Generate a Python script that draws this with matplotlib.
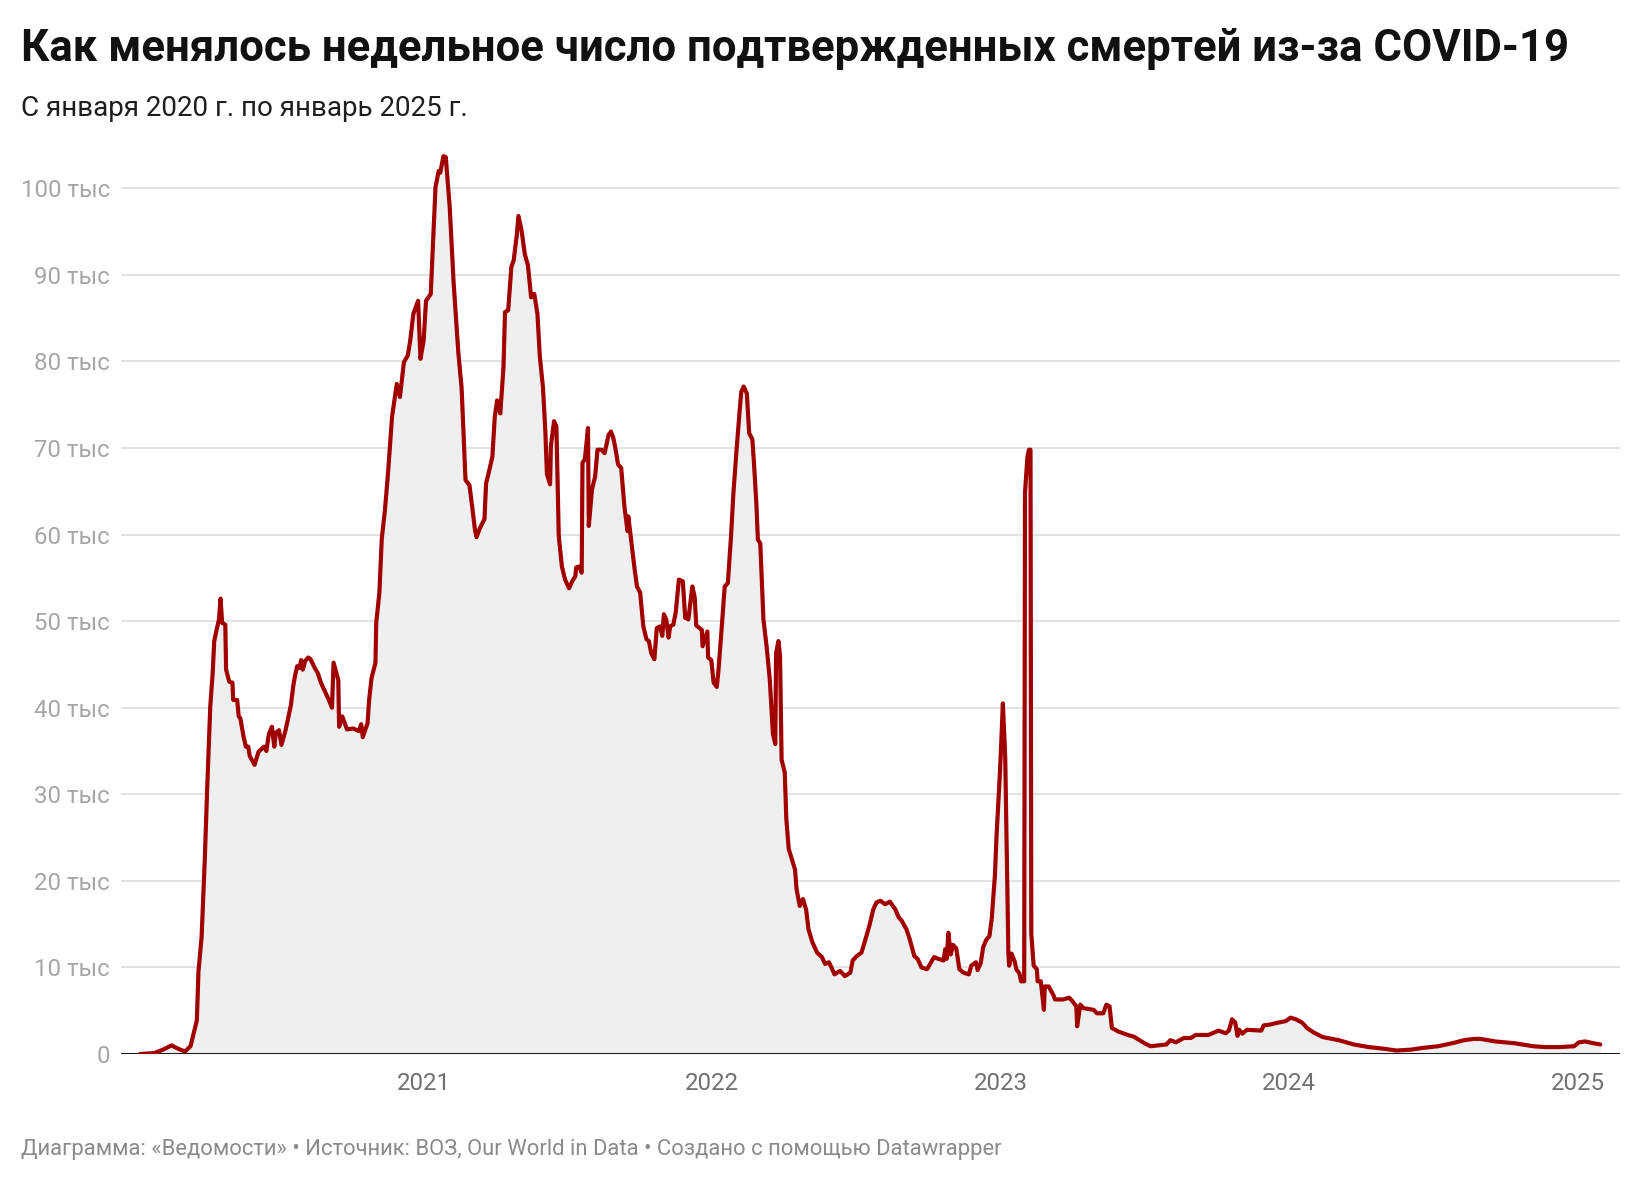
import matplotlib
matplotlib.use("Agg")
import matplotlib.pyplot as plt
import pandas as pd

plt.rcParams['font.family'] = ['Roboto', 'DejaVu Sans']

# weekly confirmed COVID-19 deaths, thousands
deaths_2020 = [
    ("2020-01-08", 0.0), ("2020-01-26", 0.1), ("2020-02-06", 0.5), ("2020-02-17", 1.0),
    ("2020-02-21", 0.8), ("2020-02-28", 0.5), ("2020-03-05", 0.3), ("2020-03-12", 0.9),
    ("2020-03-17", 2.8), ("2020-03-20", 3.9), ("2020-03-22", 9.5), ("2020-03-26", 13.5),
    ("2020-03-30", 22.4), ("2020-04-02", 30.5), ("2020-04-06", 40.2), ("2020-04-09", 44.0),
    ("2020-04-11", 47.7), ("2020-04-14", 49.0), ("2020-04-17", 50.2), ("2020-04-19", 52.6),
    ("2020-04-21", 49.8), ("2020-04-25", 49.6), ("2020-04-26", 44.4), ("2020-04-30", 43.0),
    ("2020-05-04", 42.9), ("2020-05-05", 40.9), ("2020-05-10", 40.9), ("2020-05-12", 39.0),
    ("2020-05-14", 38.8), ("2020-05-18", 36.7), ("2020-05-21", 35.5), ("2020-05-24", 35.5),
    ("2020-05-26", 34.4), ("2020-06-01", 33.4), ("2020-06-03", 34.0), ("2020-06-06", 34.9),
    ("2020-06-13", 35.5), ("2020-06-16", 35.0), ("2020-06-19", 36.9), ("2020-06-23", 37.8),
    ("2020-06-26", 35.5), ("2020-06-28", 37.1), ("2020-07-02", 37.4), ("2020-07-05", 35.7),
    ("2020-07-10", 37.3), ("2020-07-13", 38.6), ("2020-07-17", 40.3), ("2020-07-20", 42.5),
    ("2020-07-22", 43.6), ("2020-07-25", 44.8), ("2020-07-28", 44.6), ("2020-07-30", 45.5),
    ("2020-08-01", 44.4), ("2020-08-04", 45.4), ("2020-08-08", 45.8), ("2020-08-11", 45.6),
    ("2020-08-15", 44.8), ("2020-08-20", 44.0), ("2020-08-24", 42.9), ("2020-08-28", 42.1),
    ("2020-09-03", 40.9), ("2020-09-07", 40.0), ("2020-09-09", 45.2), ("2020-09-12", 44.2),
    ("2020-09-15", 43.2), ("2020-09-16", 37.8), ("2020-09-20", 39.0), ("2020-09-26", 37.5),
    ("2020-10-04", 37.6), ("2020-10-11", 37.3), ("2020-10-14", 38.1), ("2020-10-16", 36.6),
    ("2020-10-22", 38.2), ("2020-10-24", 40.9), ("2020-10-27", 43.4), ("2020-11-01", 45.2),
    ("2020-11-02", 49.8), ("2020-11-06", 53.3), ("2020-11-09", 59.5), ("2020-11-13", 62.8),
    ("2020-11-17", 67.2), ("2020-11-22", 73.6), ("2020-11-28", 77.4), ("2020-12-02", 75.9),
    ("2020-12-07", 79.9), ("2020-12-12", 80.7), ("2020-12-15", 82.4), ("2020-12-19", 85.5),
    ("2020-12-25", 87.0), ("2020-12-28", 80.3),
]

deaths_2021 = [
    ("2021-01-01", 82.4), ("2021-01-04", 87.0), ("2021-01-10", 87.8), ("2021-01-16", 100.1),
    ("2021-01-20", 102.0), ("2021-01-22", 101.8), ("2021-01-26", 103.7), ("2021-01-29", 103.6),
    ("2021-02-03", 97.8), ("2021-02-08", 89.0), ("2021-02-14", 80.9), ("2021-02-18", 77.0),
    ("2021-02-23", 66.3), ("2021-02-28", 65.7), ("2021-03-04", 62.8), ("2021-03-07", 60.5),
    ("2021-03-09", 59.7), ("2021-03-13", 60.7), ("2021-03-19", 61.8), ("2021-03-21", 65.9),
    ("2021-03-25", 67.4), ("2021-03-29", 69.0), ("2021-04-01", 73.6), ("2021-04-04", 75.5),
    ("2021-04-08", 74.0), ("2021-04-12", 79.3), ("2021-04-14", 85.7), ("2021-04-18", 85.9),
    ("2021-04-22", 90.9), ("2021-04-25", 91.7), ("2021-04-29", 94.7), ("2021-05-01", 96.8),
    ("2021-05-05", 95.1), ("2021-05-09", 92.4), ("2021-05-13", 91.1), ("2021-05-17", 87.4),
    ("2021-05-21", 87.8), ("2021-05-25", 85.5), ("2021-05-28", 80.6), ("2021-06-01", 77.0),
    ("2021-06-04", 72.0), ("2021-06-06", 67.0), ("2021-06-10", 65.8), ("2021-06-11", 70.2),
    ("2021-06-15", 73.1), ("2021-06-18", 72.5), ("2021-06-21", 59.8), ("2021-06-25", 56.3),
    ("2021-06-29", 54.8), ("2021-07-04", 53.8), ("2021-07-08", 54.6), ("2021-07-12", 55.2),
    ("2021-07-13", 56.2), ("2021-07-17", 56.3), ("2021-07-20", 55.6), ("2021-07-21", 68.3),
    ("2021-07-24", 68.7), ("2021-07-28", 72.3), ("2021-07-29", 61.0), ("2021-08-02", 65.2),
    ("2021-08-06", 66.7), ("2021-08-09", 69.8), ("2021-08-14", 69.8), ("2021-08-18", 69.4),
    ("2021-08-23", 71.5), ("2021-08-26", 71.9), ("2021-08-29", 71.2), ("2021-09-01", 69.8),
    ("2021-09-04", 68.1), ("2021-09-08", 67.7), ("2021-09-12", 63.3), ("2021-09-16", 60.4),
    ("2021-09-17", 62.1), ("2021-09-21", 59.0), ("2021-09-25", 56.0), ("2021-09-28", 54.0),
    ("2021-10-02", 53.3), ("2021-10-06", 49.4), ("2021-10-10", 47.9), ("2021-10-13", 47.7),
    ("2021-10-16", 46.3), ("2021-10-20", 45.6), ("2021-10-23", 49.2), ("2021-10-27", 49.4),
    ("2021-10-30", 48.3), ("2021-11-01", 50.8), ("2021-11-04", 50.2), ("2021-11-07", 48.1),
    ("2021-11-09", 49.4), ("2021-11-13", 49.6), ("2021-11-16", 51.0), ("2021-11-20", 54.8),
    ("2021-11-25", 54.6), ("2021-11-28", 50.4), ("2021-12-02", 50.2), ("2021-12-07", 54.0),
    ("2021-12-10", 52.8), ("2021-12-12", 49.5), ("2021-12-19", 49.0), ("2021-12-20", 47.1),
    ("2021-12-26", 48.8), ("2021-12-27", 45.8), ("2021-12-31", 45.5),
]

deaths_2022 = [
    ("2022-01-03", 42.9), ("2022-01-07", 42.4), ("2022-01-09", 44.2), ("2022-01-13", 49.0),
    ("2022-01-17", 54.0), ("2022-01-21", 54.4), ("2022-01-25", 59.8), ("2022-01-28", 64.8),
    ("2022-02-01", 69.8), ("2022-02-05", 74.4), ("2022-02-07", 76.5), ("2022-02-10", 77.1),
    ("2022-02-14", 76.3), ("2022-02-17", 71.7), ("2022-02-21", 71.0), ("2022-02-23", 68.3),
    ("2022-02-26", 63.7), ("2022-02-28", 59.4), ("2022-03-03", 59.0), ("2022-03-07", 50.2),
    ("2022-03-11", 47.1), ("2022-03-15", 43.3), ("2022-03-19", 37.0), ("2022-03-22", 35.8),
    ("2022-03-23", 46.3), ("2022-03-26", 47.7), ("2022-03-28", 46.0), ("2022-03-30", 34.0),
    ("2022-04-03", 32.5), ("2022-04-05", 27.1), ("2022-04-08", 23.7), ("2022-04-12", 22.5),
    ("2022-04-16", 21.3), ("2022-04-18", 19.0), ("2022-04-22", 17.1), ("2022-04-26", 17.9),
    ("2022-04-30", 16.7), ("2022-05-03", 14.4), ("2022-05-08", 12.9), ("2022-05-14", 11.7),
    ("2022-05-20", 11.2), ("2022-05-24", 10.4), ("2022-05-29", 10.6), ("2022-06-05", 9.2),
    ("2022-06-12", 9.6), ("2022-06-18", 9.0), ("2022-06-25", 9.4), ("2022-06-28", 10.8),
    ("2022-07-03", 11.3), ("2022-07-09", 11.7), ("2022-07-13", 12.9), ("2022-07-19", 14.8),
    ("2022-07-24", 16.7), ("2022-07-28", 17.5), ("2022-08-02", 17.7), ("2022-08-08", 17.3),
    ("2022-08-14", 17.6), ("2022-08-21", 16.7), ("2022-08-25", 15.8), ("2022-08-29", 15.4),
    ("2022-09-04", 14.4), ("2022-09-08", 13.3), ("2022-09-14", 11.3), ("2022-09-18", 11.0),
    ("2022-09-23", 10.0), ("2022-09-30", 9.8), ("2022-10-04", 10.4), ("2022-10-09", 11.2),
    ("2022-10-14", 11.0), ("2022-10-21", 10.8), ("2022-10-23", 12.1), ("2022-10-25", 11.0),
    ("2022-10-27", 14.0), ("2022-10-30", 11.5), ("2022-11-02", 12.6), ("2022-11-06", 12.2),
    ("2022-11-08", 11.0), ("2022-11-10", 9.8), ("2022-11-15", 9.4), ("2022-11-22", 9.2),
    ("2022-11-25", 10.2), ("2022-12-01", 10.6), ("2022-12-03", 9.7), ("2022-12-07", 10.5),
    ("2022-12-10", 12.3), ("2022-12-14", 13.2), ("2022-12-18", 13.6), ("2022-12-21", 15.7),
    ("2022-12-22", 17.0), ("2022-12-25", 20.7), ("2022-12-27", 25.2), ("2022-12-31", 32.0),
]

deaths_2023 = [
    ("2023-01-02", 36.0), ("2023-01-04", 40.5), ("2023-01-07", 34.3), ("2023-01-09", 23.0),
    ("2023-01-11", 11.6), ("2023-01-12", 10.2), ("2023-01-15", 11.6), ("2023-01-19", 10.7),
    ("2023-01-21", 9.8), ("2023-01-25", 9.3), ("2023-01-27", 8.4), ("2023-01-31", 8.4),
    ("2023-02-01", 64.8), ("2023-02-04", 68.9), ("2023-02-06", 69.8), ("2023-02-08", 69.8),
    ("2023-02-09", 13.9), ("2023-02-12", 10.2), ("2023-02-16", 9.8), ("2023-02-17", 8.4),
    ("2023-02-21", 8.4), ("2023-02-25", 5.1), ("2023-02-26", 7.8), ("2023-03-03", 7.8),
    ("2023-03-09", 6.8), ("2023-03-11", 6.3), ("2023-03-21", 6.3), ("2023-03-29", 6.5),
    ("2023-04-02", 6.1), ("2023-04-07", 5.5), ("2023-04-08", 3.2), ("2023-04-12", 5.7),
    ("2023-04-16", 5.3), ("2023-04-29", 5.1), ("2023-05-03", 4.7), ("2023-05-11", 4.7),
    ("2023-05-15", 5.7), ("2023-05-19", 5.5), ("2023-05-22", 3.0), ("2023-05-30", 2.6),
    ("2023-06-11", 2.2), ("2023-06-19", 2.0), ("2023-06-25", 1.65), ("2023-07-03", 1.2),
    ("2023-07-10", 0.9), ("2023-07-30", 1.1), ("2023-08-04", 1.6), ("2023-08-11", 1.35),
    ("2023-08-21", 1.85), ("2023-08-30", 1.85), ("2023-09-05", 2.2), ("2023-09-21", 2.2),
    ("2023-10-04", 2.7), ("2023-10-13", 2.4), ("2023-10-17", 2.7), ("2023-10-21", 4.0),
    ("2023-10-25", 3.65), ("2023-10-28", 2.1), ("2023-10-30", 2.8), ("2023-11-03", 2.35),
    ("2023-11-09", 2.8), ("2023-11-27", 2.7), ("2023-11-30", 3.3), ("2023-12-08", 3.4),
    ("2023-12-17", 3.6), ("2023-12-28", 3.8),
]

deaths_2024_25 = [
    ("2024-01-03", 4.2), ("2024-01-10", 4.0), ("2024-01-18", 3.6), ("2024-01-24", 3.0),
    ("2024-02-01", 2.5), ("2024-02-13", 1.95), ("2024-03-04", 1.6), ("2024-03-23", 1.1),
    ("2024-04-11", 0.8), ("2024-05-01", 0.6), ("2024-05-16", 0.4), ("2024-06-03", 0.5),
    ("2024-06-18", 0.7), ("2024-07-08", 0.9), ("2024-07-26", 1.25), ("2024-08-10", 1.6),
    ("2024-08-23", 1.75), ("2024-08-30", 1.75), ("2024-09-18", 1.45), ("2024-10-12", 1.25),
    ("2024-11-05", 0.9), ("2024-11-20", 0.8), ("2024-12-09", 0.8), ("2024-12-27", 0.9),
    ("2025-01-02", 1.35), ("2025-01-10", 1.45), ("2025-01-20", 1.25), ("2025-01-29", 1.1),
]

years = [2021, 2022, 2023, 2024, 2025]
y_ticks = [0, 10, 20, 30, 40, 50, 60, 70, 80, 90, 100]

title = "Как менялось недельное число подтвержденных смертей из-за COVID-19"
subtitle = "С января 2020 г. по январь 2025 г."
footer = ("Диаграмма: «Ведомости» • Источник: ВОЗ, Our World in Data • "
          "Создано с помощью Datawrapper")

rows = deaths_2020 + deaths_2021 + deaths_2022 + deaths_2023 + deaths_2024_25
df = pd.DataFrame(rows, columns=['date', 'deaths'])
df['date'] = pd.to_datetime(df['date'])

W, H = 1640, 1182
fig = plt.figure(figsize=(W / 100, H / 100), dpi=100)
ax = fig.add_axes([121 / W, 1 - 1054 / H, (1620 - 121) / W, (1054 - 145) / H])

ax.fill_between(df['date'], df['deaths'], 0, color='#efefef', lw=0, zorder=1)
ax.axhline(0, color='#1c1c1c', lw=2.2, zorder=3)
ax.plot(df['date'], df['deaths'], color='#a10000', lw=3.0, zorder=4,
        solid_joinstyle='round', solid_capstyle='round')

ax.set_xlim(pd.Timestamp('2019-12-15'), pd.Timestamp('2025-02-23'))
ax.set_ylim(0, 105)

ax.set_yticks(y_ticks)
ax.set_yticklabels(['0' if t == 0 else f'{t} тыс' for t in y_ticks])
ax.set_xticks([pd.Timestamp(f'{y}-01-01') for y in years])
ax.set_xticklabels([str(y) for y in years])

ax.grid(axis='y', color='#e2e2e2', lw=1.4, zorder=0)
ax.set_axisbelow(True)
for spine in ax.spines.values():
    spine.set_visible(False)
ax.tick_params(axis='y', length=0, pad=8, labelsize=17.3, labelcolor='#a6a6a6')
ax.tick_params(axis='x', length=0, pad=13, labelsize=17.3, labelcolor='#707070')

fig.text(21 / W, 1 - 61 / H, title, fontsize=31.5, fontweight='bold',
         color='#111111', va='baseline')
fig.text(21 / W, 1 - 116 / H, subtitle, fontsize=20, color='#1e1e1e', va='baseline')
fig.text(21 / W, 1 - 1149 / H, footer, fontsize=15.8, color='#8a8a8a', va='center')

fig.savefig('out.png', dpi=100)
